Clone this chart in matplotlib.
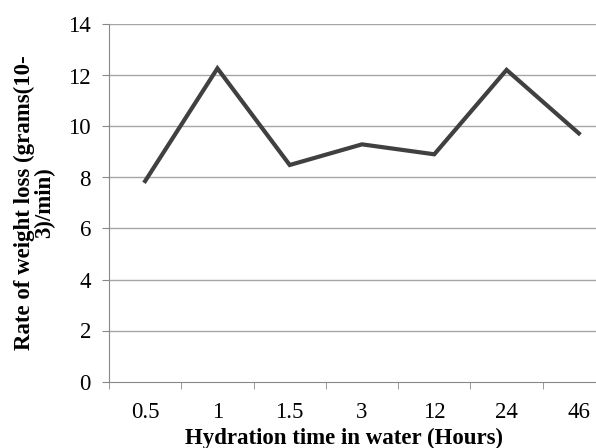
import matplotlib.pyplot as plt
import numpy as np

hours = ['0.5', '1', '1.5', '3', '12', '24', '46']
loss_rate = [7.86, 12.28, 8.49, 9.30, 8.91, 12.22, 9.73]
y_ticks = [0, 2, 4, 6, 8, 10, 12, 14]

plt.rcParams['font.family'] = ['Liberation Serif', 'DejaVu Serif']

fig = plt.figure(figsize=(5.96, 4.48), dpi=100)
# plot area runs past the right edge of the picture, like the original
ax = fig.add_axes([109 / 596, 1 - 381.5 / 448, 506 / 596, 357 / 448])

x = np.arange(len(hours))
ax.plot(x, loss_rate, color='#404040', linewidth=3.0, solid_joinstyle='miter', zorder=3)

ax.set_xlim(-0.5, len(hours) - 0.5)
ax.set_ylim(0, 14)
ax.set_yticks(y_ticks)
ax.set_yticklabels([str(v) for v in y_ticks], fontsize=16.5)
ax.set_xticks(x)
ax.set_xticklabels(hours, fontsize=16.5)
ax.set_xticks(np.arange(len(hours) + 1) - 0.5, minor=True)
ax.tick_params(axis='x', which='major', length=0, pad=15)
ax.tick_params(axis='x', which='minor', length=5, color='#888888', direction='out')
ax.tick_params(axis='y', length=5, color='#888888', direction='out', pad=8)

for v in y_ticks[1:]:
    ax.axhline(v, color='#a6a6a6', linewidth=1.0, zorder=1)

for s in ['top', 'right']:
    ax.spines[s].set_visible(False)
ax.spines['left'].set_color('#888888')
ax.spines['bottom'].set_color('#888888')

ax.set_ylabel('Rate of weight loss (grams(10-\n3)/min)', fontsize=16.5, fontweight='bold', linespacing=0.95)
ax.yaxis.set_label_coords(-(109 - 55) / 506, 0.5)
ax.set_xlabel('Hydration time in water (Hours)', fontsize=16.5, fontweight='bold')
ax.xaxis.set_label_coords((344 - 109) / 506, -56.5 / 357)
ax.xaxis.label.set_va('center')

fig.savefig('out.png', dpi=100)
